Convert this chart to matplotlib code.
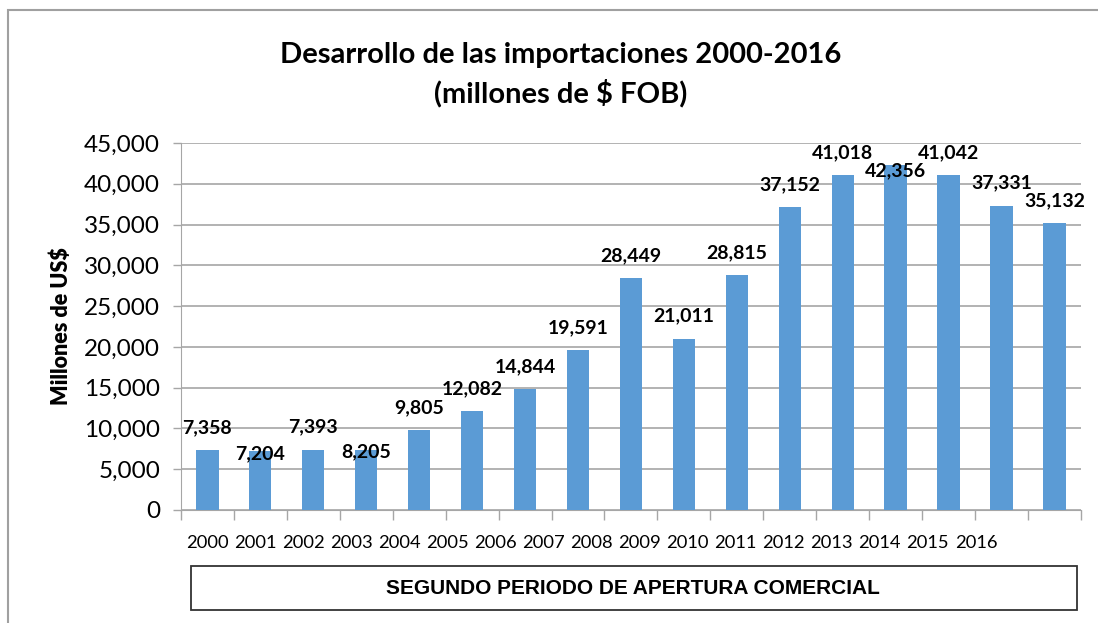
import matplotlib.pyplot as plt
from matplotlib.patches import Rectangle
import numpy as np

years = ["2000", "2001", "2002", "2003", "2004", "2005", "2006", "2007", "2008",
         "2009", "2010", "2011", "2012", "2013", "2014", "2015", "2016"]
importaciones = [7358, 7204, 7393, 7400, 9805, 12082, 14844, 19591, 28449,
                 21011, 28815, 37152, 41018, 42356, 41042, 37331, 35132]
etiquetas = ["7,358", "7,204", "7,393", "8,205", "9,805", "12,082", "14,844", "19,591", "28,449",
             "21,011", "28,815", "37,152", "41,018", "42,356", "41,042", "37,331", "35,132"]

plt.rcParams["font.family"] = ["Lato", "DejaVu Sans"]

fig = plt.figure(figsize=(10.98, 6.23), dpi=100)
ax = fig.add_axes([0.1648, 0.1814, 0.8196, 0.5891])

x = np.arange(len(importaciones))
ax.bar(x, importaciones, width=0.42, color="#5b9bd5", zorder=3)

# labels above bars (a few sit lower, overlapping, like the original)
low = {1: -1.8, 3: -1.8, 13: -4.7}
for i, (v, t) in enumerate(zip(importaciones, etiquetas)):
    ax.annotate(t, (i, v), xytext=(0, low.get(i, 16.2)), textcoords="offset points",
                ha="center", va="center", fontsize=14, fontweight="bold", zorder=4)

ax.set_ylim(0, 45000)
ax.set_xlim(-0.5, len(importaciones) - 0.5)
ax.set_yticks(np.arange(0, 45001, 5000))
ax.set_yticklabels([f"{v:,}" for v in range(0, 45001, 5000)], fontsize=17.5)
ax.yaxis.grid(True, color="#a6a6a6", linewidth=1.2, zorder=0)
ax.set_xticks(np.arange(-0.5, len(importaciones), 1))
ax.set_xticklabels([])
ax.tick_params(axis="y", length=6, width=1, color="#a6a6a6", pad=9)
ax.tick_params(axis="x", length=7, width=1, color="#a6a6a6")
for s in ["top", "right"]:
    ax.spines[s].set_visible(False)
ax.spines["left"].set_color("#a6a6a6")
ax.spines["bottom"].set_color("#a6a6a6")
ax.set_ylabel("Millones de US$", fontsize=15.5, fontweight="heavy", labelpad=9)

# year labels (not aligned with the bars in the original)
ax2 = ax.twiny()
ax2.set_xlim(-0.541, 18.185)
ax2.xaxis.tick_bottom()
ax2.set_xticks(np.arange(len(years)))
ax2.set_xticklabels(years, fontsize=13.2)
ax2.tick_params(axis="x", length=0, pad=18)
for s in ax2.spines.values():
    s.set_visible(False)

fig.text(0.511, 0.912, "Desarrollo de las importaciones 2000-2016", ha="center", va="center",
         fontsize=21, fontweight="bold")
fig.text(0.511, 0.850, "(millones de $ FOB)", ha="center", va="center",
         fontsize=21, fontweight="bold")

# box with period name
fig.patches.append(Rectangle((191 / 1098, 1 - 610 / 623), 886 / 1098, 44 / 623,
                             transform=fig.transFigure, fill=False, edgecolor="#333333", linewidth=1.3))
fig.text(0.576, 1 - 588 / 623, "SEGUNDO PERIODO DE APERTURA COMERCIAL", ha="center", va="center",
         fontsize=15, fontweight="bold", family="Liberation Sans")

# outer chart border (partly cut off)
fig.patches.append(Rectangle((8 / 1098, -0.1), 1.2, 1 - 10 / 623 + 0.1,
                             transform=fig.transFigure, fill=False, edgecolor="#a0a0a0", linewidth=1.5))

fig.savefig("out.png", dpi=100)
